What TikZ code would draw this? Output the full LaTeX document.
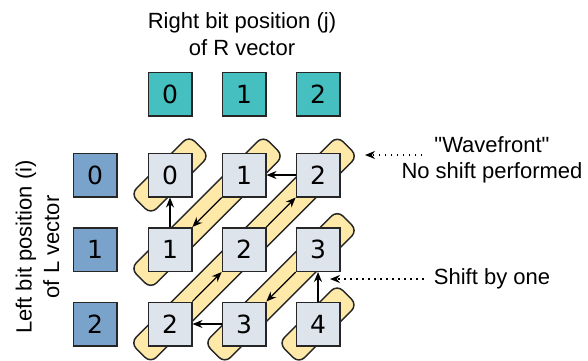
\documentclass[tikz,border=0pt]{standalone}
\usepackage{fontspec}
\usepackage{tikz}
\setmainfont{Liberation Sans}
\newfontfamily\digitfont{DejaVu Sans}
\usetikzlibrary{arrows.meta}
\usetikzlibrary{backgrounds}
\usetikzlibrary{calc}
\definecolor{rcolor}{RGB}{69,191,191}
\definecolor{lcolor}{RGB}{122,163,204}
\definecolor{cellcolor}{RGB}{221,228,236}
\definecolor{bandcolor}{RGB}{255,233,168}
\tikzset{box/.style = {draw=black!85, line width=1.5pt, minimum size=43.5pt, inner sep=0pt,
                       font=\digitfont\fontsize{25}{25}\selectfont},
         band/.style = {draw=black!85, line width=1.5pt, fill=bandcolor, rounded corners=8pt,
                        minimum height=28.5pt, inner sep=0pt, rotate=45},
         textlabel/.style = {font=\fontsize{22}{27.5}\selectfont, align=center, inner sep=0pt},
         ->/.style = {-{Stealth[length=10pt,width=8pt]}, line width=1.2pt},
         dotarrow/.style = {-{Stealth[length=10pt,width=8pt]}, line width=1.5pt,
                            dash pattern=on 1.5pt off 4.5pt}}

\begin{document}
\begin{tikzpicture}[x=1pt, y=-1pt]
    \useasboundingbox (0, 0) rectangle (588, 360);
    \node [textlabel] (rtitle) at (242, 34) {Right bit position (j)\\of R vector};
    \node [textlabel, rotate=90] (ltitle) at (37.5, 247) {Left bit position (i)\\of L vector};
    \node [box, fill=rcolor] (r0) at (170, 94) {0};
    \node [box, fill=rcolor] (r1) at (244, 94) {1};
    \node [box, fill=rcolor] (r2) at (318, 94) {2};
    \node [box, fill=lcolor] (l0) at (95, 175) {0};
    \node [box, fill=lcolor] (l1) at (95, 249.5) {1};
    \node [box, fill=lcolor] (l2) at (95, 324) {2};
    \node [box, fill=cellcolor] (c00) at (170, 175) {0};
    \node [box, fill=cellcolor] (c01) at (244, 175) {1};
    \node [box, fill=cellcolor] (c02) at (318, 175) {2};
    \node [box, fill=cellcolor] (c10) at (170, 249.5) {1};
    \node [box, fill=cellcolor] (c11) at (244, 249.5) {2};
    \node [box, fill=cellcolor] (c12) at (318, 249.5) {3};
    \node [box, fill=cellcolor] (c20) at (170, 324) {2};
    \node [box, fill=cellcolor] (c21) at (244, 324) {3};
    \node [box, fill=cellcolor] (c22) at (318, 324) {4};
    \begin{scope}[on background layer]
      \node [band, minimum width=82.5pt] (band0) at (c00) {};
      \node [band, minimum width=187.5pt] (band1) at ($(c01)!0.5!(c10)$) {};
      \node [band, minimum width=292.5pt] (band2) at (c11) {};
      \node [band, minimum width=187.5pt] (band3) at ($(c12)!0.5!(c21)$) {};
      \node [band, minimum width=82.5pt] (band4) at (c22) {};
    \end{scope}
    \draw [->] (c10) -- (c00);
    \draw [->] (c02) -- (c01);
    \draw [->] (c01) -- (c10);
    \draw [->] (c11) -- (c02);
    \draw [->] (c20) -- (c11);
    \draw [->] (c12) -- (c21);
    \draw [->] (c21) -- (c20);
    \draw [->] (c22) -- (c12);
    \node [textlabel] (wave) at (492, 145) {\textquotedbl Wavefront\textquotedbl};
    \node [textlabel] (noshift) at (492, 173) {No shift performed};
    \node [textlabel] (shift) at (492, 279) {Shift by one};
    \coordinate (wavetip) at (365, 155);
    \coordinate (shifttip) at (330, 279);
    \draw [dotarrow] ($(wave.west |- wavetip) + (-12, 0)$) -- (wavetip);
    \draw [dotarrow] ($(shift.west |- shifttip) + (-10, 0)$) -- (shifttip);
  \end{tikzpicture}
\end{document}
